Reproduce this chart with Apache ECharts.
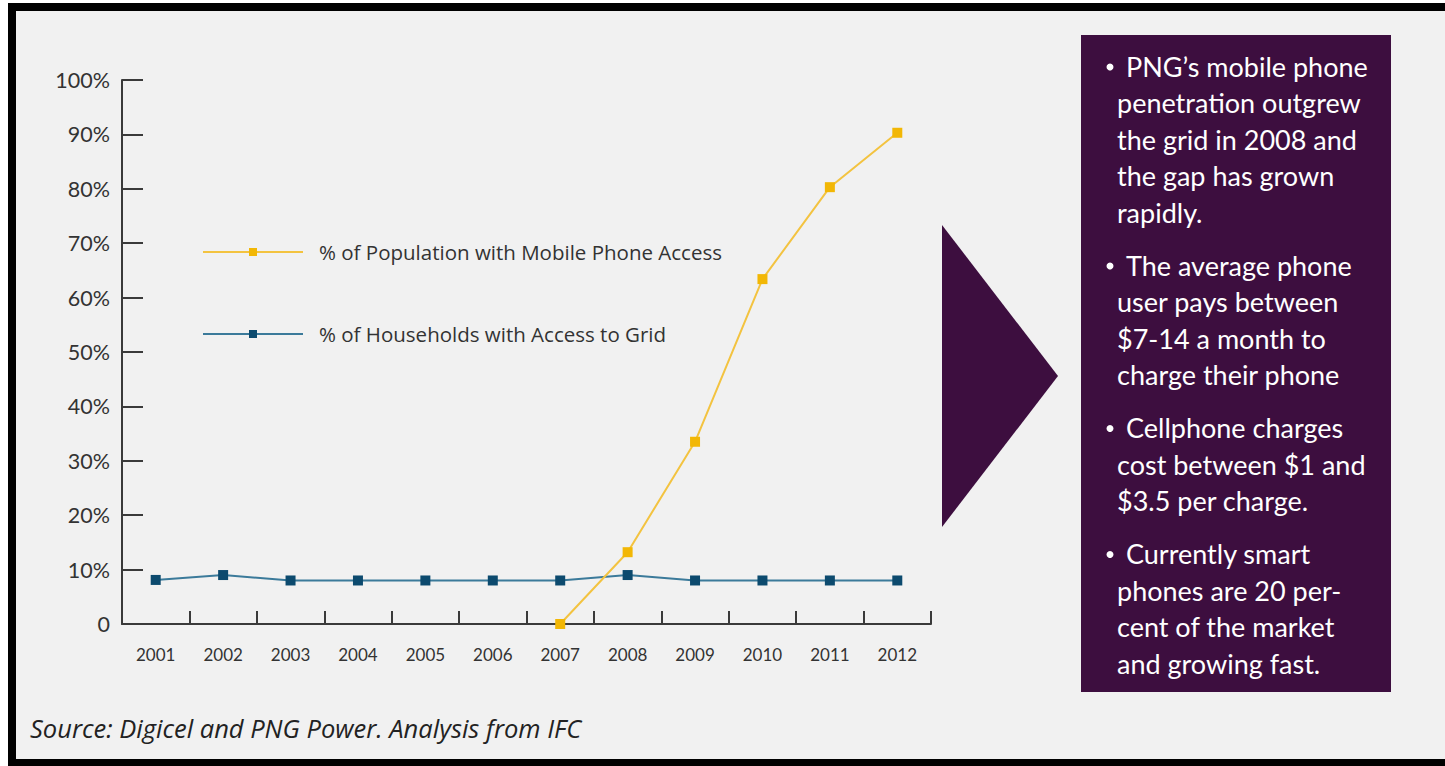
<!DOCTYPE html>
<html>
<head>
<meta charset="utf-8">
<title>PNG mobile phone access vs grid access</title>
<script src="https://cdn.jsdelivr.net/npm/echarts@6/dist/echarts.min.js"></script>
<style>
  html, body { margin: 0; padding: 0; background: #ffffff; }
  #chart { width: 1445px; height: 766px; }
</style>
</head>
<body>
<div id="chart"></div>
<script>
// Years on the category axis
const years = ['2001', '2002', '2003', '2004', '2005', '2006', '2007', '2008', '2009', '2010', '2011', '2012'];

// % of population with mobile phone access (no data before 2007)
const mobileAccess = [null, null, null, null, null, null, 0, 13.2, 33.5, 63.4, 80.3, 90.3];

// % of households with access to the grid
const gridAccess = [8.1, 9, 8, 8, 8, 8, 8, 9, 8, 8, 8, 8];

const seriesNames = ['% of Population with Mobile Phone Access', '% of Households with Access to Grid'];

// Bullet points in the side panel, one array of wrapped lines per bullet
const bullets = [
  ['PNG\u2019s mobile phone', 'penetration outgrew', 'the grid in 2008 and', 'the gap has grown', 'rapidly.'],
  ['The average phone', 'user pays between', '$7-14 a month to', 'charge their phone'],
  ['Cellphone charges', 'cost between $1 and', '$3.5 per charge.'],
  ['Currently smart', 'phones are 20 per-', 'cent of the market', 'and growing fast.']
];

const sourceNote = 'Source: Digicel and PNG Power. Analysis from IFC';

const FONT = 'Lato, "Open Sans", sans-serif';
const WIDE = '"Open Sans", Lato, sans-serif';
const PURPLE = '#3d0e3f';
const AXIS = '#3a3a3a';

// Side panel text elements (bullets + wrapped lines)
const panelText = [];
let y = 66;
bullets.forEach(function (lines) {
  lines.forEach(function (line, li) {
    if (li === 0) {
      panelText.push({
        type: 'circle', z: 7,
        shape: { cx: 1110, cy: y + 1, r: 3.5 },
        style: { fill: '#ffffff' }
      });
    }
    panelText.push({
      type: 'text', z: 7,
      x: li === 0 ? 1126 : 1117,
      y: y,
      style: {
        text: line,
        font: '27px ' + FONT,
        fill: '#ffffff',
        textVerticalAlign: 'middle'
      }
    });
    y += 36.5;
  });
  y += 16.5;
});

const chart = echarts.init(document.getElementById('chart'), null, { renderer: 'svg' });

chart.setOption({
  backgroundColor: '#ffffff',
  animation: false,
  grid: { left: 122, right: 514, top: 80, bottom: 142 },
  legend: {
    orient: 'vertical',
    left: 197,
    top: 236,
    itemWidth: 100,
    itemHeight: 10,
    itemGap: 60,
    selectedMode: false,
    textStyle: { fontFamily: WIDE, fontSize: 20.5, color: '#333333', padding: [0, 0, 0, 11], lineHeight: 22 },
    data: seriesNames
  },
  xAxis: {
    type: 'category',
    data: years,
    boundaryGap: true,
    axisLine: { show: true, lineStyle: { color: AXIS, width: 2 } },
    axisTick: { show: true, inside: true, length: 13, interval: 0, alignWithLabel: false, lineStyle: { color: AXIS, width: 2 } },
    axisLabel: { fontFamily: FONT, fontSize: 17, color: '#333333', margin: 22 },
    splitLine: { show: false }
  },
  yAxis: {
    type: 'value',
    min: 0,
    max: 100,
    interval: 10,
    axisLine: { show: true, lineStyle: { color: AXIS, width: 2 } },
    axisTick: { show: true, inside: true, length: 21, lineStyle: { color: AXIS, width: 2 } },
    axisLabel: {
      fontFamily: FONT,
      fontSize: 21.5,
      color: '#333333',
      margin: 12,
      formatter: function (v) { return v === 0 ? '0' : v + '%'; }
    },
    splitLine: { show: false }
  },
  series: [
    {
      name: seriesNames[0],
      type: 'line',
      data: mobileAccess,
      clip: false,
      symbol: 'rect',
      symbolSize: 10,
      lineStyle: { color: '#f3c340', width: 2 },
      itemStyle: { color: '#f2b705' },
      z: 3
    },
    {
      name: seriesNames[1],
      type: 'line',
      data: gridAccess,
      clip: false,
      symbol: 'rect',
      symbolSize: 10,
      lineStyle: { color: '#3b7a9a', width: 2 },
      itemStyle: { color: '#0c4a6e' },
      z: 2
    }
  ],
  graphic: [
    // page background and frame
    { type: 'rect', shape: { x: 8, y: 3, width: 1437, height: 763 }, style: { fill: '#f1f1f1' }, z: -10, silent: true },
    { type: 'rect', shape: { x: 8, y: 3, width: 1437, height: 8 }, style: { fill: '#000000' }, z: 10 },
    { type: 'rect', shape: { x: 8, y: 3, width: 8, height: 763 }, style: { fill: '#000000' }, z: 10 },
    { type: 'rect', shape: { x: 8, y: 759, width: 1437, height: 7 }, style: { fill: '#000000' }, z: 10 },
    // arrow pointing to the panel
    { type: 'polygon', shape: { points: [[942, 225], [1058, 376], [942, 527]] }, style: { fill: PURPLE }, z: 5 },
    // side panel
    { type: 'rect', shape: { x: 1081, y: 35, width: 310, height: 657 }, style: { fill: PURPLE }, z: 5 }
  ].concat(panelText).concat([
    // source note
    {
      type: 'text', x: 30, y: 728, z: 7,
      style: { text: sourceNote, font: 'italic 25.5px ' + WIDE, fill: '#222222', textVerticalAlign: 'middle' }
    }
  ])
});
</script>
</body>
</html>
